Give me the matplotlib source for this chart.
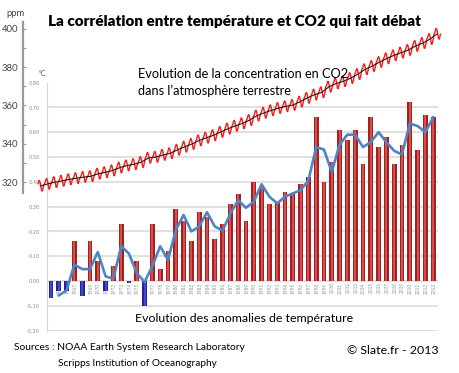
import numpy as np
import matplotlib
matplotlib.use("Agg")
import matplotlib.pyplot as plt

W, H = 460, 373

# temperature anomalies (deg C)
temp_years = list(range(1964, 2014))
temp_vals = [-0.07, -0.04, -0.04, 0.16, -0.06, 0.16, 0.08, -0.04, 0.06, 0.23,
             -0.01, 0.08, -0.10, 0.23, 0.05, 0.12, 0.29, 0.24, 0.16, 0.28,
             0.26, 0.17, 0.23, 0.31, 0.35, 0.24, 0.40, 0.38, 0.31, 0.32,
             0.36, 0.35, 0.39, 0.42, 0.66, 0.40, 0.48, 0.61, 0.57, 0.61,
             0.47, 0.66, 0.54, 0.58, 0.47, 0.55, 0.72, 0.53, 0.67, 0.66]

# smoothed curve (blue line)
smooth_years = list(range(1965, 2014))
smooth_vals = [-0.058, -0.038, 0.066, 0.048, 0.048, 0.117, 0.019, 0.009, 0.141, 0.11,
               0.032, -0.004, 0.06, 0.14, 0.085, 0.205, 0.266, 0.20, 0.22, 0.277,
               0.22, 0.203, 0.272, 0.326, 0.295, 0.32, 0.39, 0.34, 0.313, 0.34,
               0.353, 0.366, 0.405, 0.54, 0.53, 0.44, 0.55, 0.59, 0.59, 0.54,
               0.56, 0.60, 0.56, 0.525, 0.51, 0.635, 0.625, 0.60, 0.66]

# CO2 (ppm) yearly means and average seasonal offsets per month
co2_years = list(range(1958, 2014))
co2_annual = [318.0, 319.0, 319.9, 320.6, 321.4, 322.0, 322.6, 323.0, 324.3, 325.1,
              326.0, 327.5, 328.6, 329.3, 330.4, 332.6, 333.1, 334.1, 335.0, 336.8,
              338.4, 339.8, 341.7, 343.1, 344.4, 346.1, 347.8, 349.3, 350.6, 352.3,
              354.6, 356.1, 357.4, 358.6, 359.5, 360.2, 361.9, 363.9, 365.6, 366.8,
              369.7, 371.4, 372.6, 374.2, 376.3, 378.8, 380.5, 382.6, 384.5, 386.1,
              387.5, 388.9, 391.0, 392.5, 394.6, 397.3]
seasonal = [-0.44, 0.37, 1.09, 2.31, 2.92, 2.34, 0.96, -0.92, -2.61, -2.69, -1.37, -0.16]

temp_ticks = [-0.2, -0.1, 0.0, 0.1, 0.2, 0.3, 0.4, 0.5, 0.6, 0.7, 0.8]
ppm_ticks = [320, 340, 360, 380, 400]

FONT = "Lato"


def box(x0, y0, x1, y1):
    # pixel box -> figure fraction
    return [x0 / W, 1 - y1 / H, (x1 - x0) / W, (y1 - y0) / H]


fig = plt.figure(figsize=(W / 100, H / 100), dpi=100)
fig.patch.set_facecolor("white")

# ---- temperature chart
ax = fig.add_axes(box(47, 82.6, 438, 330.6))
ax.set_xlim(1963.49, 2013.62)
ax.set_ylim(-0.2, 0.8)
ax.patch.set_alpha(0)
for s in ["top", "right", "bottom"]:
    ax.spines[s].set_visible(False)
ax.spines["left"].set_color("#d6d6d6")
ax.spines["left"].set_linewidth(0.8)
for v in temp_ticks[:-1]:
    ax.axhline(v, color="#dadada", lw=1.2, zorder=0)
ax.set_yticks(temp_ticks)
ax.set_yticklabels([f"{v:.2f}".replace(".", ",") for v in temp_ticks])
ax.tick_params(axis="y", length=0, pad=5, labelsize=3.6, labelcolor="#8a8a8a")
ax.set_xticks([])

tv = np.array(temp_vals)
ty = np.array(temp_years)
pos = tv >= 0
ax.bar(ty[pos], tv[pos], width=0.6, color="#a81f22", zorder=2)
ax.bar(ty[pos], tv[pos], width=0.26, color="#d2504c", zorder=2.1)
ax.bar(ty[~pos], tv[~pos], width=0.6, color="#23239f", zorder=2)
ax.bar(ty[~pos], tv[~pos], width=0.26, color="#4646cf", zorder=2.1)
for y in temp_years:
    ax.text(y + 0.1, -0.006, str(y), rotation=90, ha="center", va="top",
            fontsize=3.4, color="#959595", zorder=1.5, family=FONT)
ax.plot(smooth_years, smooth_vals, color="#4d85c6", lw=1.9, zorder=4,
        solid_joinstyle="round")

# ---- CO2 chart (overlay)
ax2 = fig.add_axes(box(23, 22, 445, 193))
ax2.set_xlim(1956.12, 2014.59)
ax2.set_ylim(314.3, 403.55)
ax2.patch.set_alpha(0)
for s in ["top", "right", "bottom"]:
    ax2.spines[s].set_visible(False)
ax2.spines["left"].set_color("#9a9a9a")
ax2.spines["left"].set_linewidth(1.6)
ax2.set_xticks([])
ax2.set_yticks(ppm_ticks)
ax2.set_yticks([330, 350, 370, 390], minor=True)
ax2.tick_params(axis="y", which="both", direction="in", length=2.2,
                width=0.8, color="#9a9a9a", pad=3.5, labelsize=6.8,
                labelcolor="#444444")
for lab in ax2.get_yticklabels():
    lab.set_family(FONT)

months = np.array(co2_years)[:, None] + (np.arange(12) + 0.5) / 12
monthly = np.array(co2_annual)[:, None] + np.array(seasonal)[None, :]
ax2.plot(months.ravel()[2:], monthly.ravel()[2:], color="#ff1a1a", lw=1.0, zorder=3)
ax2.plot(np.array(co2_years) + 0.5, co2_annual, color="#1a1a1a", lw=0.8, zorder=4)

# ---- texts
def ftext(x, y, s, **kw):
    fig.text(x / W, 1 - y / H, s, family=FONT, **kw)

ftext(48, 22, "La corrélation entre température et CO2 qui fait débat",
      fontsize=11.0, weight="heavy", va="center", ha="left", color="black")
ftext(16, 13, "ppm", fontsize=6.8, va="center", ha="center", color="#444444")
ftext(42, 73, "°C", fontsize=4.8, va="center", ha="center", color="#555555")
ftext(138, 74, "Evolution de la concentration en CO2", fontsize=9.2,
      va="center", ha="left", color="black")
ftext(138, 91, "dans l\u2019atmosphère terrestre", fontsize=9.2,
      va="center", ha="left", color="black")
ftext(135, 319, "Evolution des anomalies de température", fontsize=8.9,
      va="center", ha="left", color="black")
ftext(14, 348, "Sources : NOAA Earth System Research Laboratory", fontsize=7.4,
      va="center", ha="left", color="black")
ftext(58, 363, "Scripps Institution of Oceanography", fontsize=7.2,
      va="center", ha="left", color="black")
ftext(347, 350, "© Slate.fr - 2013", fontsize=8.9, va="center", ha="left",
      color="black")

fig.savefig("out.png", dpi=100, facecolor="white")
